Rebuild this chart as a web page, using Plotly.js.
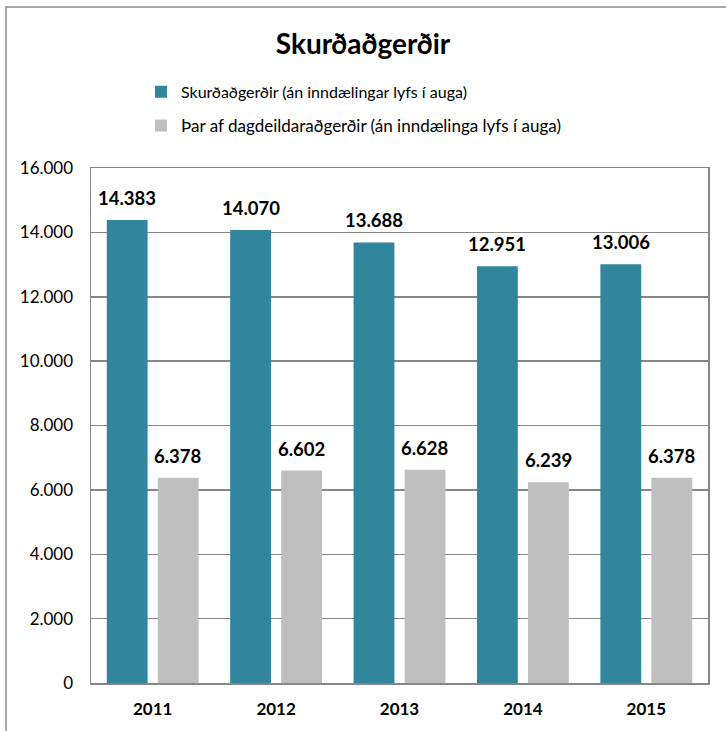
<!DOCTYPE html>
<html><head><meta charset="utf-8">
<script src="https://cdn.plot.ly/plotly-3.0.1.min.js"></script>
<style>html,body{margin:0;padding:0;background:#fff}#chart{width:726px;height:731px}</style>
</head><body><div id="chart"></div>
<script>
const years = ["2011","2012","2013","2014","2015"];
const allSurgeries = [14383, 14070, 13688, 12951, 13006];
const daySurgeries = [6378, 6602, 6628, 6239, 6378];
const seriesNames = ["Skurðaðgerðir (án inndælingar lyfs í auga)", "Þar af dagdeildaraðgerðir (án inndælinga lyfs í auga)"];
const yTicks = [0, 2000, 4000, 6000, 8000, 10000, 12000, 14000, 16000];

const FONT = "Lato, 'Open Sans', sans-serif";
const fmt = v => v.toLocaleString("de-DE");

const traces = [
  {type:"bar", x:years, y:allSurgeries, name:seriesNames[0], legend:"legend",
   marker:{color:"#31859C"}, hoverinfo:"skip"},
  {type:"bar", x:years, y:daySurgeries, name:seriesNames[1], legend:"legend2",
   marker:{color:"#BFBFBF"}, hoverinfo:"skip"}
];

// data labels placed through the axes (category serial number on x, value on y), shifted to each bar of the group
const labelFont = {family:FONT, size:18.5, color:"#000", weight:"bold"};
const annotations = [];
[[allSurgeries, -25.5], [daySurgeries, 25.5]].forEach(([vals, dx]) => {
  vals.forEach((v, i) => annotations.push({
    x: i, y: v, xref:"x", yref:"y", text: fmt(v), showarrow:false,
    xanchor:"center", yanchor:"bottom", xshift: dx, yshift: 9, font: labelFont
  }));
});

const layout = {
  width:726, height:731,
  margin:{l:91, r:18, t:168, b:48},
  paper_bgcolor:"#fff", plot_bgcolor:"#fff",
  separators:",.",
  font:{family:FONT, color:"#000"},
  title:{text:"<b>Skurðaðgerðir</b>", font:{family:FONT, size:28, color:"#000"}, x:0.5, xanchor:"center", y:0.94, yanchor:"middle"},
  barmode:"group", bargap:0.173, bargroupgap:0.2,
  xaxis:{type:"category", categoryarray:years, range:[-0.5, years.length-0.5], autorange:false,
    showline:true, linecolor:"#868686", linewidth:1.5, mirror:true,
    ticks:"", tickfont:{family:FONT, size:17, color:"#000", weight:"bold"}, ticklabelstandoff:10},
  yaxis:{range:[0,16000], tickvals:yTicks, tickformat:",d", showline:true, linecolor:"#868686", linewidth:1.5, mirror:true,
    gridcolor:"#868686", gridwidth:1.5, zeroline:false, ticks:"", tickfont:{family:FONT, size:17, color:"#000"}, ticklabelstandoff:13},
  showlegend:true,
  legend:{x:0.081, y:1.148, xanchor:"left", yanchor:"middle", bgcolor:"rgba(0,0,0,0)",
    font:{family:FONT, size:16, color:"#000"}, itemwidth:30},
  legend2:{x:0.081, y:1.0815, xanchor:"left", yanchor:"middle", bgcolor:"rgba(0,0,0,0)",
    font:{family:FONT, size:17, color:"#000"}, itemwidth:30},
  annotations: annotations,
  shapes:[{type:"path", xref:"paper", yref:"paper",
    path:"M -0.1378,-0.2 L -0.1378,1.3126 L 1.2,1.3126", line:{color:"#8c8c8c", width:1.5}}]
};
Plotly.newPlot("chart", traces, layout, {displayModeBar:false, staticPlot:true});
</script></body></html>
